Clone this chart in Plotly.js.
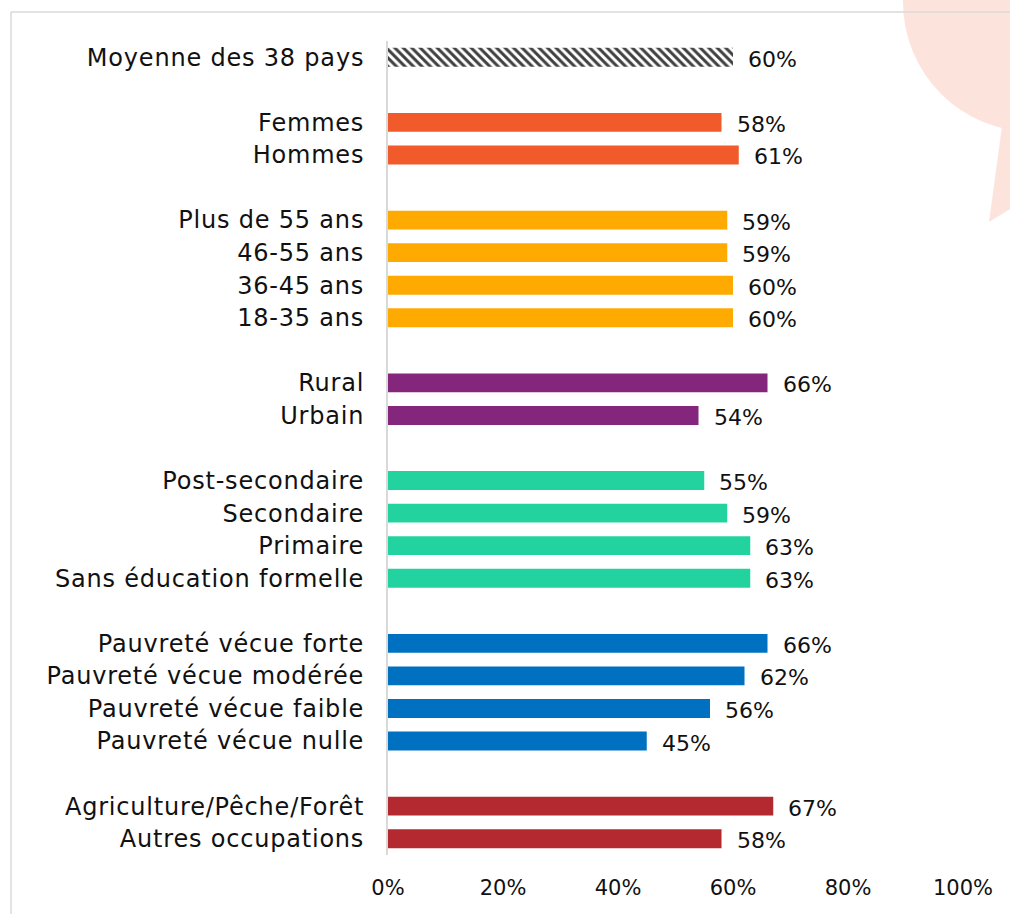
<!DOCTYPE html>
<html>
<head>
<meta charset="utf-8">
<script src="https://cdn.plot.ly/plotly-3.0.1.min.js"></script>
<style>
html,body{margin:0;padding:0;background:#fff;}
#chart{width:1010px;height:914px;}
#chart g.ytick text{letter-spacing:0.8px;}
</style>
</head>
<body>
<div id="chart"></div>
<script>
// ---- Data ----
const groupMoyenne = ["Moyenne des 38 pays"];
const valMoyenne = [60];
const groupGenre = ["Femmes", "Hommes"];
const valGenre = [58, 61];
const groupAge = ["Plus de 55 ans", "46-55 ans", "36-45 ans", "18-35 ans"];
const valAge = [59, 59, 60, 60];
const groupMilieu = ["Rural", "Urbain"];
const valMilieu = [66, 54];
const groupEducation = ["Post-secondaire", "Secondaire", "Primaire", "Sans éducation formelle"];
const valEducation = [55, 59, 63, 63];
const groupPauvrete = ["Pauvreté vécue forte", "Pauvreté vécue modérée", "Pauvreté vécue faible", "Pauvreté vécue nulle"];
const valPauvrete = [66, 62, 56, 45];
const groupOccupation = ["Agriculture/Pêche/Forêt", "Autres occupations"];
const valOccupation = [67, 58];
const xTickVals = [0, 20, 40, 60, 80, 100];
const xTickText = ["0%", "20%", "40%", "60%", "80%", "100%"];

// ---- Styles ----
const groups = [
  {labels: groupMoyenne, values: valMoyenne, color: "#ffffff", pattern: true},
  {labels: groupGenre, values: valGenre, color: "#F15A2B"},
  {labels: groupAge, values: valAge, color: "#FFAA00"},
  {labels: groupMilieu, values: valMilieu, color: "#84267B"},
  {labels: groupEducation, values: valEducation, color: "#22D3A0"},
  {labels: groupPauvrete, values: valPauvrete, color: "#0071C1"},
  {labels: groupOccupation, values: valOccupation, color: "#B4282F"}
];

const FONT = "'DejaVu Sans', sans-serif";
const traces = [];
const annotations = [];
const tickvals = [], ticktext = [];
let pos = 0;
groups.forEach((g, gi) => {
  if (gi > 0) pos += 1; // blank row between groups
  const ys = [];
  g.labels.forEach((lab, i) => {
    ys.push(pos);
    tickvals.push(pos);
    ticktext.push(lab);
    annotations.push({
      x: g.values[i], y: pos, xref: "x", yref: "y",
      text: g.values[i] + "%", showarrow: false,
      xanchor: "left", yanchor: "middle", xshift: 13, yshift: -2,
      font: {family: FONT, size: 22, color: "#111111"}
    });
    pos += 1;
  });
  const marker = {color: g.color, line: {width: 0}};
  if (g.pattern) {
    marker.pattern = {shape: "\\", fgcolor: "#404040", bgcolor: "#ffffff", size: 6, solidity: 0.5};
  }
  traces.push({
    type: "bar", orientation: "h", x: g.values, y: ys,
    width: 0.58, marker: marker, hoverinfo: "skip", showlegend: false
  });
});
const lastPos = pos - 1;

// pixel geometry helpers for decorative shapes
const W = 1010, H = 914;
const M = {l: 388, r: 47, t: 41, b: 59};
const pw = W - M.l - M.r, ph = H - M.t - M.b;
const px = v => (v - M.l) / pw;
const py = v => 1 - (v - M.t) / ph;

const shapes = [
  {type: "circle", xref: "paper", yref: "paper", layer: "below",
   x0: px(903), x1: px(1163), y0: py(-128), y1: py(132),
   fillcolor: "#FCE4DC", line: {width: 0}},
  {type: "path", xref: "paper", yref: "paper", layer: "below",
   path: `M ${px(1002)} ${py(126)} L ${px(989)} ${py(222)} L ${px(1015)} ${py(206)} L ${px(1015)} ${py(110)} Z`,
   fillcolor: "#FCE4DC", line: {width: 0}},
  {type: "line", xref: "paper", yref: "paper", layer: "below",
   x0: px(11), x1: px(1015), y0: py(12), y1: py(12),
   line: {color: "#DADADA", width: 1.5}},
  {type: "line", xref: "paper", yref: "paper", layer: "below",
   x0: px(11), x1: px(11), y0: py(12), y1: py(920),
   line: {color: "#DADADA", width: 1.5}}
];

const layout = {
  width: W, height: H,
  margin: M,
  paper_bgcolor: "rgba(0,0,0,0)",
  plot_bgcolor: "rgba(0,0,0,0)",
  barmode: "overlay",
  showlegend: false,
  font: {family: FONT, color: "#111111"},
  xaxis: {
    range: [0, 100], tickvals: xTickVals, ticktext: xTickText,
    showgrid: false, zeroline: false, showline: false,
    ticks: "outside", ticklen: 14, tickcolor: "rgba(0,0,0,0)",
    tickfont: {family: FONT, size: 21, color: "#111111"},
    fixedrange: true
  },
  yaxis: {
    range: [lastPos + 0.5, -0.5], tickvals: tickvals, ticktext: ticktext,
    showgrid: false, zeroline: false,
    showline: true, linecolor: "#D9D9D9", linewidth: 2,
    ticks: "outside", ticklen: 17, tickcolor: "rgba(0,0,0,0)",
    tickfont: {family: FONT, size: 24, color: "#111111"},
    fixedrange: true
  },
  annotations: annotations,
  shapes: shapes
};

Plotly.newPlot("chart", traces, layout, {displayModeBar: false, staticPlot: true});
</script>
</body>
</html>
